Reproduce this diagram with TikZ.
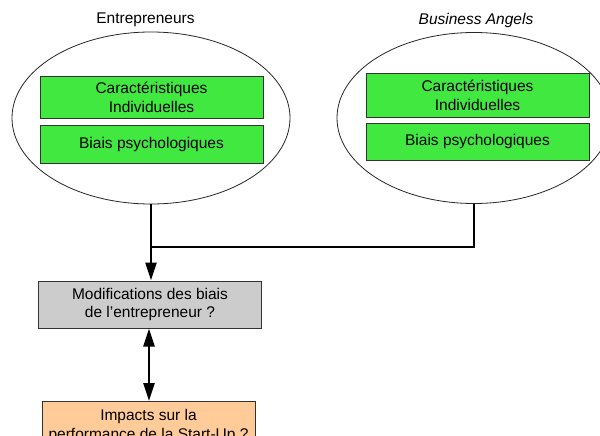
\documentclass[tikz,border=0pt]{standalone}
\usepackage{fontspec}
\setmainfont{Liberation Sans}
\usetikzlibrary{shapes.geometric,arrows.meta}
\definecolor{gfill}{RGB}{64,232,64}
\definecolor{gbox}{RGB}{204,204,204}
\definecolor{obox}{RGB}{255,204,153}
\definecolor{bord}{RGB}{50,50,50}
\tikzset{
  txt/.style={font=\fontsize{15.5}{18.3}\selectfont, align=center},
  group/.style={ellipse, draw=black!85, line width=0.8pt, inner sep=0pt},
  gbox/.style={txt, rectangle, draw=bord, line width=1pt, fill=gfill, minimum width=223pt, inner sep=0pt},
  conn/.style={line width=2.5pt},
  tip/.style={-{Triangle[length=18pt,width=11pt]}},
  dtip/.style={{Triangle[length=18pt,width=11pt]}-{Triangle[length=18pt,width=11pt]}},
}
\begin{document}
\begin{tikzpicture}[x=1pt,y=-1pt]
\useasboundingbox (0,0) rectangle (600,436);
\clip (0,0) rectangle (600,436);
\fill[white] (0,0) rectangle (600,436);
% groups
\node[group, minimum width=278pt, minimum height=172pt] (ent) at (151,118) {};
\node[group, minimum width=274pt, minimum height=171pt] (ba) at (474,118) {};
\node[txt] (tent) at (145.5,20) {Entrepreneurs};
\node[txt] (tba) at (476,20) {\itshape Business Angels};
% green boxes
\node[gbox, minimum height=41pt] (c1) at (151.5,97.5) {Caractéristiques\\Individuelles};
\node[gbox, minimum height=38pt] (b1) at (151.5,144) {Biais psychologiques};
\node[gbox, minimum height=43pt] (c2) at (477.5,95.5) {Caractéristiques\\Individuelles};
\node[gbox, minimum height=37pt] (b2) at (477.5,141.5) {Biais psychologiques};
% lower boxes
\node[txt, rectangle, draw=bord, line width=1pt, fill=gbox, minimum width=223pt, minimum height=47pt, inner sep=0pt] (mod) at (150,304.5) {Modifications des biais\\de l'entrepreneur ?};
\node[txt, rectangle, draw=bord, line width=1pt, fill=obox, minimum width=213pt, minimum height=49pt, inner sep=0pt, anchor=north] (imp) at (148.5,401) {Impacts sur la\\performance de la Start-Up ?};
% connectors
\coordinate (j) at (ent.south |- 0,247);
\draw[conn] (ba.south) |- (j);
\draw[conn, tip] (ent.south) -- (ent.south |- mod.north);
\draw[conn, dtip] (mod.south -| 149,0) -- (imp.north -| 149,0);
\end{tikzpicture}
\end{document}
